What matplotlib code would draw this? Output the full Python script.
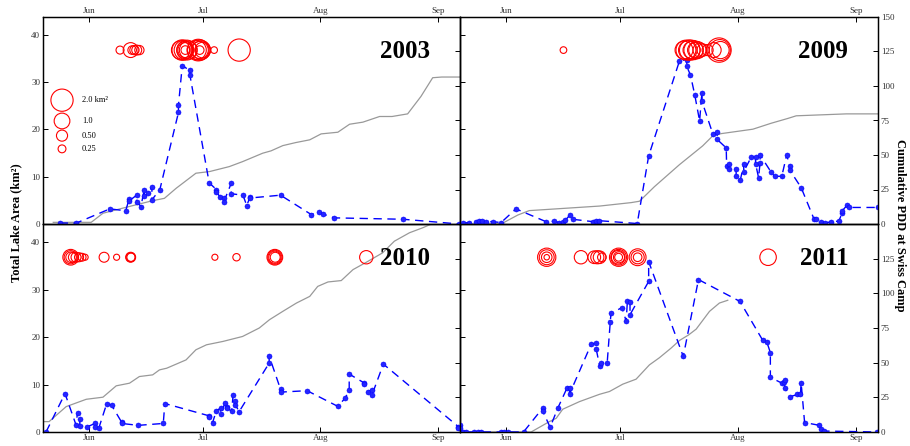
import numpy as np
import matplotlib
matplotlib.use("Agg")
import matplotlib.pyplot as plt
from matplotlib.transforms import blended_transform_factory

plt.rcParams['font.family'] = ['Liberation Serif', 'DejaVu Serif']

# first day of each month (day of year)
month_doy = [152, 182, 213, 244]
month_lab = ['Jun', 'Jul', 'Aug', 'Sep']

# ---- 2003 ----
doy_2003 = [144.3, 148.7, 157.5, 161.7, 162.6, 162.6, 164.6, 164.6, 165.7, 166.6, 166.6, 167.7,
            168.6, 168.6, 170.7, 175.6, 175.6, 176.6, 178.6, 178.6, 183.7, 185.6, 185.6, 186.5,
            187.5, 187.5, 189.5, 189.5, 192.6, 193.6, 194.5, 194.5, 202.5, 210.6, 212.6, 213.7,
            216.6, 234.9, 249.6]
area_2003 = [0.2, 0.2, 3.2, 2.8, 5.3, 4.9, 6.1, 4.7, 3.7, 7.3, 5.9, 6.5,
             7.9, 5.1, 7.3, 23.6, 25.1, 33.5, 32.5, 31.6, 8.7, 7.3, 6.8, 5.8,
             5.4, 4.6, 8.6, 6.4, 6.1, 3.9, 5.8, 5.5, 6.1, 2.0, 2.5, 2.1,
             1.3, 1.0, 0.0]
pdd_doy_2003 = [142.6, 152.6, 155.7, 161.8, 168.8, 171.9, 175.0, 180.2, 183.8, 189.0, 192.5,
                197.8, 200.0, 203.1, 206.5, 210.2, 213.2, 217.6, 220.7, 224.2, 228.6, 231.9,
                236.0, 239.5, 242.6, 245.0, 249.8]
pdd_2003 = [1.2, 1.2, 7.8, 12.1, 16.9, 18.6, 25.9, 36.8, 38.0, 41.6, 45.2,
            51.3, 53.0, 56.8, 59.0, 61.0, 65.3, 66.5, 72.3, 73.8, 77.9, 77.9,
            79.8, 92.4, 106.0, 106.5, 106.5]
drain_doy_2003 = [160.2, 163.0, 163.4, 164.0, 164.6, 165.3, 176.2, 176.6, 177.0, 177.4, 177.4,
                  177.4, 177.8, 178.2, 180.4, 180.8, 181.2, 181.2, 181.2, 181.6, 182.0, 185.0,
                  191.6]
drain_area_2003 = [0.26, 0.9, 0.3, 0.35, 0.4, 0.35, 1.4, 1.7, 1.5, 1.2, 0.9,
                   0.3, 1.6, 1.3, 1.5, 1.9, 1.7, 1.2, 0.3, 1.4, 1.0, 0.18,
                   2.0]

# ---- 2009 ----
doy_2009 = [140.6, 142.3, 144.1, 145.0, 145.8, 146.7, 148.5, 150.7, 154.6, 162.5, 164.7, 166.0,
            166.9, 167.6, 168.9, 169.5, 174.8, 175.6, 176.5, 186.5, 189.5, 197.6, 199.5, 199.5,
            200.5, 201.6, 202.9, 203.5, 203.5, 206.4, 207.5, 207.5, 209.9, 210.0, 210.5, 210.5,
            212.5, 212.5, 213.6, 214.5, 214.5, 216.5, 217.6, 217.6, 218.4, 218.8, 218.8, 221.6,
            222.6, 224.5, 225.8, 226.6, 226.6, 229.6, 233.0, 233.6, 234.9, 235.9, 237.5, 239.5,
            240.4, 240.4, 241.7, 242.3, 249.8]
area_2009 = [0.2, 0.3, 0.5, 0.6, 0.6, 0.5, 0.5, 0.3, 3.2, 0.5, 0.6, 0.3,
             0.5, 0.8, 2.0, 1.0, 0.5, 0.7, 0.7, 0.1, 14.4, 34.5, 34.8, 33.4,
             31.5, 27.4, 21.8, 27.8, 26.0, 19.0, 19.4, 17.9, 16.1, 12.3, 12.6, 11.6,
             11.7, 10.1, 9.3, 12.6, 11.1, 14.2, 14.1, 12.8, 9.8, 13.0, 14.6, 11.1,
             10.1, 10.1, 14.6, 12.3, 11.4, 7.7, 1.0, 1.0, 0.5, 0.2, 0.5, 0.6,
             2.4, 2.8, 4.0, 3.5, 3.5]
pdd_doy_2009 = [140.0, 150.7, 155.1, 158.1, 176.6, 184.9, 187.1, 191.0, 197.6, 203.7, 206.4,
                208.6, 216.9, 221.7, 226.1, 228.3, 241.5, 249.8]
pdd_2009 = [0.0, 0.0, 6.5, 9.7, 13.0, 15.5, 16.5, 27.0, 43.0, 56.6, 64.0,
            65.5, 68.7, 73.0, 76.5, 78.4, 79.8, 79.8]
drain_doy_2009 = [167.1, 198.8, 199.3, 199.8, 200.3, 200.8, 201.3, 201.8, 202.3, 203.0, 203.8,
                  205.0, 206.6, 208.0, 208.2, 208.4]
drain_area_2009 = [0.18, 1.3, 1.6, 1.4, 1.7, 1.2, 1.5, 1.0, 1.2, 0.8, 0.6,
                   0.5, 0.9, 2.4, 1.8, 1.2]

# ---- 2010 ----
doy_2010 = [140.7, 145.7, 148.6, 149.0, 149.6, 149.6, 151.6, 153.6, 153.6, 154.6, 156.7, 158.0,
            160.6, 160.6, 165.0, 171.6, 172.0, 183.7, 183.7, 184.6, 185.6, 186.7, 186.7, 187.9,
            188.5, 188.5, 189.6, 190.0, 190.6, 190.6, 191.6, 199.5, 199.5, 202.5, 202.5, 209.5,
            217.6, 219.6, 220.6, 220.6, 224.4, 224.4, 225.5, 226.6, 226.6, 229.6, 249.4, 249.4]
area_2010 = [0.0, 8.1, 1.5, 4.1, 2.7, 1.3, 1.1, 1.8, 1.1, 0.8, 6.0, 5.6,
             2.1, 1.8, 1.4, 1.8, 6.0, 3.4, 3.2, 2.0, 4.5, 5.0, 3.8, 6.1,
             5.3, 5.0, 4.4, 7.7, 6.5, 5.7, 4.3, 14.5, 16.0, 9.0, 8.4, 8.7,
             5.4, 7.2, 8.9, 12.2, 10.4, 10.2, 8.4, 8.9, 7.8, 14.3, 1.1, 0.8]
pdd_doy_2010 = [140.3, 141.5, 146.0, 151.3, 155.7, 159.2, 162.7, 165.3, 168.8, 170.6, 172.5,
                177.6, 180.2, 183.0, 187.3, 192.5, 196.9, 199.6, 203.1, 206.7, 210.2, 212.3,
                215.0, 218.5, 221.6, 225.1, 229.4, 232.5, 236.5, 240.0, 242.6, 246.0]
pdd_2010 = [7.5, 7.5, 18.3, 23.6, 25.1, 33.3, 35.2, 40.0, 41.2, 44.8, 46.0,
            52.0, 59.3, 62.9, 65.3, 68.9, 75.0, 81.0, 87.0, 93.0, 97.8, 105.0,
            108.2, 109.2, 117.1, 122.4, 129.2, 137.6, 143.7, 147.3, 150.4, 155.0]
drain_doy_2010 = [147.2, 147.2, 147.3, 147.9, 148.6, 149.4, 150.2, 151.0, 156.0, 159.3, 163.0,
                  163.0, 163.1, 185.2, 190.9, 201.0, 201.0, 201.0, 201.1, 225.1]
drain_area_2010 = [1.0, 0.7, 0.45, 0.4, 0.4, 0.33, 0.25, 0.15, 0.4, 0.15, 0.4,
                   0.33, 0.28, 0.15, 0.22, 1.0, 0.8, 0.6, 0.4, 0.72]

# ---- 2011 ----
doy_2011 = [140.0, 140.0, 140.6, 141.5, 143.7, 144.6, 145.4, 150.7, 151.5, 152.4, 156.6, 161.6,
            161.6, 163.6, 165.6, 168.0, 168.7, 168.7, 174.4, 175.7, 175.7, 176.6, 177.0, 178.6,
            179.4, 179.6, 182.5, 183.6, 183.9, 184.6, 184.6, 189.5, 189.5, 198.6, 202.6, 213.5,
            219.5, 220.6, 221.5, 221.5, 224.5, 225.0, 225.3, 225.3, 226.6, 228.6, 229.4, 229.6,
            230.5, 234.4, 234.7, 235.6, 249.6]
area_2011 = [1.5, 0.8, 0.0, 0.0, 0.0, 0.0, 0.0, 0.0, 0.0, 0.0, 0.0, 5.0,
             4.5, 1.0, 5.0, 9.2, 9.2, 8.0, 18.5, 18.7, 17.5, 14.0, 14.6, 14.6,
             23.1, 25.0, 26.2, 23.3, 27.5, 27.3, 24.7, 31.7, 35.9, 15.9, 32.1, 27.5,
             19.3, 18.9, 16.7, 11.5, 10.3, 10.6, 11.0, 9.3, 7.4, 7.9, 7.9, 10.3,
             2.0, 1.4, 0.6, 0.2, 0.0]
pdd_doy_2011 = [140.0, 158.6, 163.4, 165.2, 166.9, 171.3, 176.6, 179.2, 182.7, 186.2, 189.7,
                192.3, 195.4, 197.6, 200.0, 202.0, 205.5, 208.1, 210.3]
pdd_2011 = [0.0, 0.0, 7.5, 9.9, 16.4, 21.9, 27.2, 29.2, 34.5, 38.1, 48.4,
            53.5, 60.5, 66.0, 70.0, 74.2, 87.0, 93.0, 95.0]
drain_doy_2011 = [162.7, 162.7, 162.7, 162.7, 171.7, 175.2, 176.0, 176.6, 177.2, 181.6, 181.6,
                  181.5, 181.7, 181.6, 186.6, 186.6, 186.6, 220.9]
drain_area_2011 = [1.35, 0.9, 0.45, 0.12, 0.72, 0.65, 0.7, 0.65, 0.3, 1.35, 1.0,
                   0.75, 0.5, 0.25, 1.15, 0.7, 0.3, 1.1]

legend_areas = [2.0, 1.0, 0.50, 0.25]
legend_labels = ['2.0 km²', '1.0', '0.50', '0.25']
legend_y = [26.2, 21.8, 18.7, 15.9]

years = ['2003', '2009', '2010', '2011']
blue_doy = [doy_2003, doy_2009, doy_2010, doy_2011]
blue_area = [area_2003, area_2009, area_2010, area_2011]
gray_doy = [pdd_doy_2003, pdd_doy_2009, pdd_doy_2010, pdd_doy_2011]
gray_pdd = [pdd_2003, pdd_2009, pdd_2010, pdd_2011]
red_doy = [drain_doy_2003, drain_doy_2009, drain_doy_2010, drain_doy_2011]
red_area = [drain_area_2003, drain_area_2009, drain_area_2010, drain_area_2011]

DRAIN_Y = 36.8
SIZE_K = 128  # marker area (pt^2) per km^2

fig = plt.figure(figsize=(9.1, 4.46), dpi=100)

x0, xm, x1 = 43 / 910, 460 / 910, 878 / 910
y_top, y_mid, y_bot = 1 - 17 / 446, 1 - 224 / 446, 1 - 432 / 446
boxes = [
    [x0, y_mid, xm - x0, y_top - y_mid],
    [xm, y_mid, x1 - xm, y_top - y_mid],
    [x0, y_bot, xm - x0, y_mid - y_bot],
    [xm, y_bot, x1 - xm, y_mid - y_bot],
]

tick_kw = dict(direction='in', length=3.5, width=0.7, labelsize=6.5,
               colors='black', labelcolor='#333333', pad=2)

for i in range(4):
    top = i < 2
    left = i % 2 == 0
    ax = fig.add_axes(boxes[i])
    ax2 = ax.twinx()
    ax.set_zorder(ax2.get_zorder() + 1)
    ax.patch.set_visible(False)

    ax2.plot(gray_doy[i], gray_pdd[i], color='#999999', lw=0.9)
    ax.plot(blue_doy[i], blue_area[i], color='blue', lw=1.0, dashes=(6, 4),
            marker='o', ms=3.6, mfc='#2525ff', mec='blue', mew=0.4)
    ax.scatter(red_doy[i], [DRAIN_Y] * len(red_doy[i]),
               s=[SIZE_K * a for a in red_area[i]],
               facecolors='none', edgecolors='red', linewidths=0.8, zorder=5)

    ax.set_xlim(139.9, 249.8)
    ax.set_ylim(0, 43.8)
    ax2.set_ylim(0, 150)
    ax.set_yticks([0, 10, 20, 30, 40])
    ax2.set_yticks([0, 25, 50, 75, 100, 125, 150] if top else [0, 25, 50, 75, 100, 125])
    ax.set_xticks(month_doy)
    ax.set_xticklabels(month_lab)

    ax.tick_params(axis='both', **tick_kw)
    ax2.tick_params(axis='y', **tick_kw)
    if top:
        ax.xaxis.tick_top()
        ax.tick_params(axis='x', top=True, bottom=False, labeltop=True, labelbottom=False, pad=1.5)
    else:
        ax.tick_params(axis='x', top=False, bottom=True, labeltop=False, labelbottom=True, pad=1.5)
    if not left:
        ax.tick_params(axis='y', labelleft=False)
    else:
        ax2.tick_params(axis='y', labelright=False)

    for a in (ax, ax2):
        for sp in a.spines.values():
            sp.set_linewidth(0.9)
            sp.set_color('black')

    ax.text(0.929, 0.832, years[i], transform=ax.transAxes, ha='right', va='center',
            fontsize=18, fontweight='bold')

    if i == 0:
        tr = blended_transform_factory(ax.transAxes, ax.transData)
        ax.scatter([0.0456] * len(legend_areas), legend_y,
                   s=[SIZE_K * a for a in legend_areas], transform=tr,
                   facecolors='none', edgecolors='red', linewidths=0.8, zorder=5)
        for lab, yy in zip(legend_labels, legend_y):
            ax.text(0.0935, yy, lab, transform=tr, fontsize=6, va='center', ha='left')

fig.text(0.018, 0.5, 'Total Lake Area (km²)', rotation=90, ha='center', va='center',
         fontsize=9, fontweight='bold')
fig.text(0.989, 0.495, 'Cumulative PDD at Swiss Camp', rotation=270, ha='center', va='center',
         fontsize=9, fontweight='bold')

fig.savefig('out.png', dpi=100)
